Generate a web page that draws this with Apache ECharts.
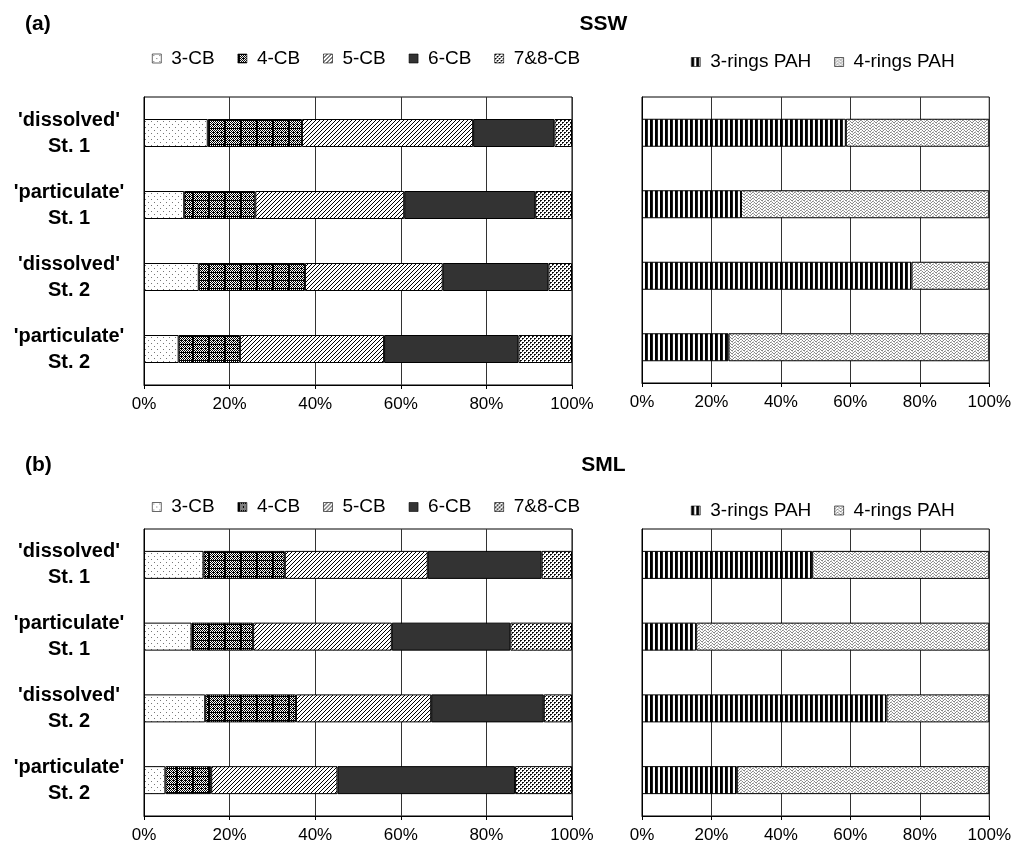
<!DOCTYPE html>
<html>
<head>
<meta charset="utf-8">
<script src="https://cdn.jsdelivr.net/npm/echarts@6/dist/echarts.min.js"></script>
<style>
html,body{margin:0;padding:0;background:#fff;}
#main{width:1014px;height:848px;}
</style>
</head>
<body>
<div id="main"></div>
<script>
// ---- data ----
const categories = ["'dissolved'\nSt. 1", "'particulate'\nSt. 1", "'dissolved'\nSt. 2", "'particulate'\nSt. 2"];
const pcbNames = ['3-CB', '4-CB', '5-CB', '6-CB', '7&8-CB'];
const pahNames = ['3-rings PAH', '4-rings PAH'];
const xTickStep = 20;

// SSW (a)
const ssw3CB  = [14.9, 9.4, 12.8, 8.1];
const ssw4CB  = [22.0, 16.6, 24.8, 14.3];
const ssw5CB  = [40.0, 34.8, 32.2, 33.7];
const ssw6CB  = [19.0, 30.6, 24.7, 31.4];
const ssw78CB = [4.1, 8.6, 5.5, 12.5];
const ssw3PAH = [58.7, 28.5, 77.6, 24.9];
const ssw4PAH = [41.3, 71.5, 22.4, 75.1];

// SML (b)
const sml3CB  = [13.9, 11.1, 14.3, 5.0];
const sml4CB  = [19.0, 14.4, 21.2, 10.7];
const sml5CB  = [33.4, 32.4, 31.6, 29.5];
const sml6CB  = [26.6, 27.7, 26.3, 41.5];
const sml78CB = [7.1, 14.4, 6.6, 13.3];
const sml3PAH = [49.0, 15.6, 70.4, 27.3];
const sml4PAH = [51.0, 84.4, 29.6, 72.7];

// ---- patterns ----
function makePattern(w, h, draw) {
  const c = document.createElement('canvas');
  c.width = w; c.height = h;
  const ctx = c.getContext('2d');
  ctx.fillStyle = '#fff';
  ctx.fillRect(0, 0, w, h);
  draw(ctx);
  return { image: c, repeat: 'repeat' };
}
function px(ctx, x, y, col) { ctx.fillStyle = col; ctx.fillRect(x, y, 1, 1); }

const pat3CB = makePattern(6, 6, ctx => { px(ctx, 1, 1, '#777'); px(ctx, 4, 4, '#777'); });
const pat4CB = makePattern(16, 8, ctx => {
  for (let y = 0; y < 8; y++) for (let x = 0; x < 16; x++) {
    if ((x + y) % 2 === 0 || (x % 4 === 1 && y % 4 === 0)) px(ctx, x, y, '#000');
  }
  ctx.fillStyle = '#000'; ctx.fillRect(0, 0, 16, 1); ctx.fillRect(0, 0, 2, 8);
});
const pat5CB = makePattern(4, 4, ctx => { px(ctx, 3, 0, '#000'); px(ctx, 2, 1, '#000'); px(ctx, 1, 2, '#000'); px(ctx, 0, 3, '#000'); });
const col6CB = '#333333';
const pat78CB = makePattern(4, 4, ctx => {
  px(ctx, 0, 0, '#000'); px(ctx, 1, 0, '#222'); px(ctx, 0, 1, '#444');
  px(ctx, 2, 2, '#000'); px(ctx, 3, 2, '#222'); px(ctx, 2, 3, '#444');
});
const pat3PAH = makePattern(5, 1, ctx => { px(ctx, 0, 0, '#000'); px(ctx, 1, 0, '#000'); px(ctx, 2, 0, '#222'); });
const pat4PAH = makePattern(6, 3, ctx => {
  px(ctx, 0, 2, '#888'); px(ctx, 1, 1, '#888'); px(ctx, 2, 0, '#888'); px(ctx, 3, 0, '#aaa');
  px(ctx, 4, 1, '#888'); px(ctx, 5, 2, '#888'); px(ctx, 3, 2, '#ccc'); px(ctx, 0, 0, '#ccc');
});
const pcbFills = [pat3CB, pat4CB, pat5CB, col6CB, pat78CB];
const pahFills = [pat3PAH, pat4PAH];

// ---- layout ----
const FONT = 'Liberation Sans, Arial, sans-serif';
const grids = [
  { left: 144, top: 97, width: 428, height: 288 },
  { left: 642, top: 97, width: 350, height: 286 },
  { left: 144, top: 529, width: 428, height: 287 },
  { left: 642, top: 529, width: 350, height: 287 }
];

function xAxisFor(i) {
  return {
    gridIndex: i, type: 'value', min: 0, max: 100, interval: xTickStep,
    axisLine: { show: true, lineStyle: { color: '#000', width: 1 } },
    axisTick: { show: true, length: 4, lineStyle: { color: '#000' } },
    splitLine: { show: true, lineStyle: { color: '#333', width: 1 } },
    axisLabel: { formatter: '{value}%', fontSize: 17, color: '#000', fontFamily: FONT, margin: 11 }
  };
}
function yAxisFor(i, showLabels) {
  return {
    gridIndex: i, type: 'category', data: categories, inverse: true,
    axisLine: { show: true, lineStyle: { color: '#000', width: 1 } },
    axisTick: { show: false },
    splitLine: { show: false },
    axisLabel: {
      show: showLabels, fontSize: 20, fontWeight: 'bold', color: '#000', fontFamily: FONT,
      align: 'center', margin: 75, lineHeight: 26
    }
  };
}

const series = [];
function addBars(names, fills, datas, gi, stack) {
  names.forEach((n, k) => {
    series.push({
      type: 'bar', name: n, data: datas[k], stack: stack,
      xAxisIndex: gi, yAxisIndex: gi, barWidth: 28,
      itemStyle: { color: fills[k], borderColor: '#000', borderWidth: 1 },
      emphasis: { disabled: true }, animation: false
    });
  });
}
addBars(pcbNames, pcbFills, [ssw3CB, ssw4CB, ssw5CB, ssw6CB, ssw78CB], 0, 'a1');
addBars(pahNames, pahFills, [ssw3PAH, ssw4PAH], 1, 'a2');
addBars(pcbNames, pcbFills, [sml3CB, sml4CB, sml5CB, sml6CB, sml78CB], 2, 'b1');
addBars(pahNames, pahFills, [sml3PAH, sml4PAH], 3, 'b2');

function legendFor(names, left, top) {
  return {
    data: names, left: left, top: top, padding: 0, itemGap: 23,
    itemWidth: 9, itemHeight: 9, icon: 'rect', selectedMode: false,
    itemStyle: { borderWidth: 0.6, borderColor: '#000' },
    textStyle: { fontSize: 19, color: '#000', fontFamily: FONT, padding: [0, 0, 0, 5] }
  };
}

const titleStyle = { fontSize: 21, fontWeight: 'bold', fill: '#000', fontFamily: FONT };
const option = {
  backgroundColor: '#fff',
  animation: false,
  grid: grids.map(g => Object.assign({ show: true, borderColor: '#000', borderWidth: 1, backgroundColor: 'transparent', containLabel: false }, g)),
  xAxis: [0, 1, 2, 3].map(xAxisFor),
  yAxis: [yAxisFor(0, true), yAxisFor(1, false), yAxisFor(2, true), yAxisFor(3, false)],
  legend: [
    legendFor(pcbNames, 152, 49),
    legendFor(pahNames, 691, 52.5),
    legendFor(pcbNames, 152, 497.5),
    legendFor(pahNames, 691, 501)
  ],
  graphic: [
    { type: 'text', left: 25, top: 14, style: Object.assign({ text: '(a)' }, titleStyle) },
    { type: 'text', x: 603.5, y: 24.5, style: Object.assign({ text: 'SSW', align: 'center', verticalAlign: 'middle' }, titleStyle) },
    { type: 'text', left: 25, top: 455, style: Object.assign({ text: '(b)' }, titleStyle) },
    { type: 'text', x: 603.5, y: 465.5, style: Object.assign({ text: 'SML', align: 'center', verticalAlign: 'middle' }, titleStyle) }
  ],
  series: series
};

const chart = echarts.init(document.getElementById('main'), null, { renderer: 'canvas' });
chart.setOption(option);
</script>
</body>
</html>
